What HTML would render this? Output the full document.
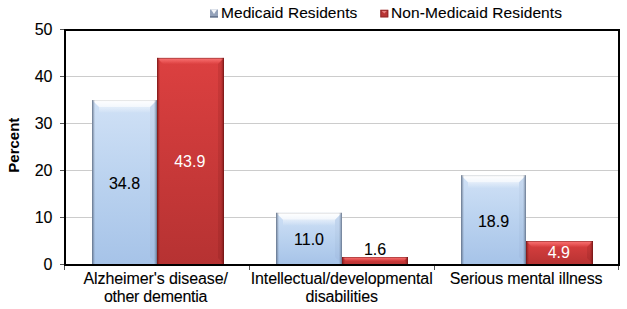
<!DOCTYPE html><html><head><meta charset="utf-8"><style>html,body{margin:0;padding:0;background:#fff;overflow:hidden}svg{display:block}</style></head><body><svg width="627" height="309" viewBox="0 0 627 309"><defs>
<linearGradient id="gb" x1="0" y1="0" x2="0" y2="1"><stop offset="0" stop-color="#d0e1f6"/><stop offset="0.5" stop-color="#bad2ef"/><stop offset="1" stop-color="#a6c3e8"/></linearGradient>
<linearGradient id="gr" x1="0" y1="0" x2="0" y2="1"><stop offset="0" stop-color="#dc4040"/><stop offset="1" stop-color="#b63232"/></linearGradient>
<linearGradient id="tb" x1="0" y1="0" x2="0" y2="1"><stop offset="0" stop-color="#fff" stop-opacity="1"/><stop offset="1" stop-color="#fff" stop-opacity="0.75"/></linearGradient>
<linearGradient id="tr" x1="0" y1="0" x2="0" y2="1"><stop offset="0" stop-color="#ff8080" stop-opacity="0.85"/><stop offset="0.5" stop-color="#ff7878" stop-opacity="0.5"/><stop offset="1" stop-color="#ff7070" stop-opacity="0.05"/></linearGradient>
<linearGradient id="tb2" x1="0" y1="0" x2="0" y2="1"><stop offset="0" stop-color="#fff" stop-opacity="0.45"/><stop offset="1" stop-color="#fff" stop-opacity="0"/></linearGradient>
<linearGradient id="elb" x1="0" y1="0" x2="1" y2="0"><stop offset="0" stop-color="#56647a" stop-opacity="0.85"/><stop offset="0.5" stop-color="#56647a" stop-opacity="0.4"/><stop offset="1" stop-color="#56647a" stop-opacity="0"/></linearGradient>
<linearGradient id="erb" x1="0" y1="0" x2="1" y2="0"><stop offset="0" stop-color="#56647a" stop-opacity="0"/><stop offset="0.5" stop-color="#56647a" stop-opacity="0.35"/><stop offset="1" stop-color="#56647a" stop-opacity="0.8"/></linearGradient>
<linearGradient id="elr" x1="0" y1="0" x2="1" y2="0"><stop offset="0" stop-color="#6a1010" stop-opacity="0.85"/><stop offset="0.5" stop-color="#6a1010" stop-opacity="0.35"/><stop offset="1" stop-color="#6a1010" stop-opacity="0"/></linearGradient>
<linearGradient id="err" x1="0" y1="0" x2="1" y2="0"><stop offset="0" stop-color="#5a0a0a" stop-opacity="0"/><stop offset="0.5" stop-color="#5a0a0a" stop-opacity="0.3"/><stop offset="1" stop-color="#5a0a0a" stop-opacity="0.75"/></linearGradient>
</defs><rect width="627" height="309" fill="#fff"/><rect x="65" y="76" width="554" height="1" fill="#cccccc"/><rect x="65" y="123" width="554" height="1" fill="#cccccc"/><rect x="65" y="170" width="554" height="1" fill="#cccccc"/><rect x="65" y="217" width="554" height="1" fill="#cccccc"/><rect x="92" y="100.10" width="65" height="164.90" fill="url(#gb)"/><polygon points="157,100.10 157,264 150.00,257.00 150.00,107.10" fill="rgba(70,90,130,0.05)"/><polygon points="92,100.10 99.00,107.10 99.00,257.00 92,264" fill="rgba(255,255,255,0)"/><polygon points="92,100.10 157,100.10 150.00,107.10 99.00,107.10" fill="url(#tb)"/><rect x="99.00" y="107.10" width="51.00" height="6.00" fill="url(#tb2)"/><rect x="92" y="100.10" width="65" height="1" fill="rgba(150,150,150,0.25)"/><rect x="92" y="100.10" width="3" height="164.90" fill="url(#elb)"/><rect x="154" y="100.10" width="3" height="164.90" fill="url(#erb)"/><rect x="157" y="57.90" width="67" height="207.10" fill="url(#gr)"/><polygon points="224,57.90 224,264 218.00,258.00 218.00,63.90" fill="rgba(60,0,0,0.10)"/><polygon points="157,57.90 224,57.90 218.00,63.90 163.00,63.90" fill="url(#tr)"/><rect x="157" y="57.90" width="67" height="1" fill="rgba(110,20,20,0.45)"/><rect x="157" y="57.90" width="3" height="207.10" fill="url(#elr)"/><rect x="221" y="57.90" width="3" height="207.10" fill="url(#err)"/><rect x="276" y="212.80" width="66" height="52.20" fill="url(#gb)"/><polygon points="342,212.80 342,264 335.00,257.00 335.00,219.80" fill="rgba(70,90,130,0.05)"/><polygon points="276,212.80 283.00,219.80 283.00,257.00 276,264" fill="rgba(255,255,255,0)"/><polygon points="276,212.80 342,212.80 335.00,219.80 283.00,219.80" fill="url(#tb)"/><rect x="283.00" y="219.80" width="52.00" height="6.00" fill="url(#tb2)"/><rect x="276" y="212.80" width="66" height="1" fill="rgba(150,150,150,0.25)"/><rect x="276" y="212.80" width="3" height="52.20" fill="url(#elb)"/><rect x="339" y="212.80" width="3" height="52.20" fill="url(#erb)"/><rect x="342" y="257.00" width="66" height="8.00" fill="url(#gr)"/><polygon points="408,257.00 408,264 404.00,260.00 404.00,261.00" fill="rgba(60,0,0,0.10)"/><polygon points="342,257.00 408,257.00 404.00,261.00 346.00,261.00" fill="url(#tr)"/><rect x="342" y="257.00" width="66" height="1" fill="rgba(110,20,20,0.45)"/><rect x="342" y="257.00" width="3" height="8.00" fill="url(#elr)"/><rect x="405" y="257.00" width="3" height="8.00" fill="url(#err)"/><rect x="461" y="175.20" width="65" height="89.80" fill="url(#gb)"/><polygon points="526,175.20 526,264 519.00,257.00 519.00,182.20" fill="rgba(70,90,130,0.05)"/><polygon points="461,175.20 468.00,182.20 468.00,257.00 461,264" fill="rgba(255,255,255,0)"/><polygon points="461,175.20 526,175.20 519.00,182.20 468.00,182.20" fill="url(#tb)"/><rect x="468.00" y="182.20" width="51.00" height="6.00" fill="url(#tb2)"/><rect x="461" y="175.20" width="65" height="1" fill="rgba(150,150,150,0.25)"/><rect x="461" y="175.20" width="3" height="89.80" fill="url(#elb)"/><rect x="523" y="175.20" width="3" height="89.80" fill="url(#erb)"/><rect x="526" y="241.00" width="67" height="24.00" fill="url(#gr)"/><polygon points="593,241.00 593,264 587.00,258.00 587.00,247.00" fill="rgba(60,0,0,0.10)"/><polygon points="526,241.00 593,241.00 587.00,247.00 532.00,247.00" fill="url(#tr)"/><rect x="526" y="241.00" width="67" height="1" fill="rgba(110,20,20,0.45)"/><rect x="526" y="241.00" width="3" height="24.00" fill="url(#elr)"/><rect x="590" y="241.00" width="3" height="24.00" fill="url(#err)"/><rect x="65" y="30" width="554" height="235" fill="none" stroke="#000" stroke-width="2"/><rect x="60" y="29" width="4" height="1" fill="#555"/><rect x="60" y="76" width="4" height="1" fill="#555"/><rect x="60" y="123" width="4" height="1" fill="#555"/><rect x="60" y="170" width="4" height="1" fill="#555"/><rect x="60" y="217" width="4" height="1" fill="#555"/><rect x="60" y="264" width="4" height="1" fill="#555"/><rect x="64" y="266" width="1" height="4" fill="#555"/><rect x="249" y="266" width="1" height="4" fill="#555"/><rect x="434" y="266" width="1" height="4" fill="#555"/><rect x="618" y="266" width="1" height="4" fill="#555"/><text x="52.5" y="270.4" text-anchor="end" font-family="Liberation Sans, sans-serif" font-size="16" fill="#000" stroke="#000" stroke-width="0.1">0</text><text x="52.5" y="223.4" text-anchor="end" font-family="Liberation Sans, sans-serif" font-size="16" fill="#000" stroke="#000" stroke-width="0.1">10</text><text x="52.5" y="176.4" text-anchor="end" font-family="Liberation Sans, sans-serif" font-size="16" fill="#000" stroke="#000" stroke-width="0.1">20</text><text x="52.5" y="129.4" text-anchor="end" font-family="Liberation Sans, sans-serif" font-size="16" fill="#000" stroke="#000" stroke-width="0.1">30</text><text x="52.5" y="82.4" text-anchor="end" font-family="Liberation Sans, sans-serif" font-size="16" fill="#000" stroke="#000" stroke-width="0.1">40</text><text x="52.5" y="35.4" text-anchor="end" font-family="Liberation Sans, sans-serif" font-size="16" fill="#000" stroke="#000" stroke-width="0.1">50</text><text x="124.50" y="189.47" text-anchor="middle" font-family="Liberation Sans, sans-serif" font-size="16" fill="#000" stroke="#000" stroke-width="0.1">34.8</text><text x="189.80" y="166.59" text-anchor="middle" font-family="Liberation Sans, sans-serif" font-size="16" fill="#fff">43.9</text><text x="309.00" y="245.40" text-anchor="middle" font-family="Liberation Sans, sans-serif" font-size="16" fill="#000" stroke="#000" stroke-width="0.1">11.0</text><text x="375.00" y="254.5" text-anchor="middle" font-family="Liberation Sans, sans-serif" font-size="16" fill="#000" stroke="#000" stroke-width="0.1">1.6</text><text x="493.50" y="226.84" text-anchor="middle" font-family="Liberation Sans, sans-serif" font-size="16" fill="#000" stroke="#000" stroke-width="0.1">18.9</text><text x="558.80" y="258.24" text-anchor="middle" font-family="Liberation Sans, sans-serif" font-size="16" fill="#fff">4.9</text><text x="155.70" y="284.0" text-anchor="middle" textLength="144.5" lengthAdjust="spacing" font-family="Liberation Sans, sans-serif" font-size="16" fill="#000" stroke="#000" stroke-width="0.1">Alzheimer&#39;s disease/</text><text x="155.70" y="301.5" text-anchor="middle" textLength="103.5" lengthAdjust="spacing" font-family="Liberation Sans, sans-serif" font-size="16" fill="#000" stroke="#000" stroke-width="0.1">other dementia</text><text x="341.70" y="284.0" text-anchor="middle" textLength="182" lengthAdjust="spacing" font-family="Liberation Sans, sans-serif" font-size="16" fill="#000" stroke="#000" stroke-width="0.1">Intellectual/developmental</text><text x="341.70" y="301.5" text-anchor="middle" textLength="72.5" lengthAdjust="spacing" font-family="Liberation Sans, sans-serif" font-size="16" fill="#000" stroke="#000" stroke-width="0.1">disabilities</text><text x="526.10" y="284.0" text-anchor="middle" textLength="152.8" lengthAdjust="spacing" font-family="Liberation Sans, sans-serif" font-size="16" fill="#000" stroke="#000" stroke-width="0.1">Serious mental illness</text><text transform="translate(18.7,145.2) rotate(-90)" text-anchor="middle" font-family="Liberation Sans, sans-serif" font-size="15" font-weight="bold" fill="#000">Percent</text><rect x="210" y="9.5" width="8" height="8" fill="#94a2ba"/><polygon points="211,9.5 217,9.5 214,14" fill="#f4f6fa"/><rect x="210" y="16.2" width="8" height="1.3" fill="#5e6c86"/><text x="221" y="17.8" font-family="Liberation Sans, sans-serif" font-size="15.5" textLength="136.3" lengthAdjust="spacing" fill="#000" stroke="#000" stroke-width="0.1">Medicaid Residents</text><rect x="380.3" y="9.8" width="8" height="7.6" fill="#b83434"/><polygon points="381.5,10.8 387,10.8 384.3,13.6" fill="#e88080"/><rect x="380.8" y="10.3" width="7" height="6.6" fill="none" stroke="#7a1c1c" stroke-width="1" stroke-opacity="0.6"/><text x="391" y="17.8" font-family="Liberation Sans, sans-serif" font-size="15.5" textLength="171" lengthAdjust="spacing" fill="#000" stroke="#000" stroke-width="0.1">Non-Medicaid Residents</text></svg></body></html>
